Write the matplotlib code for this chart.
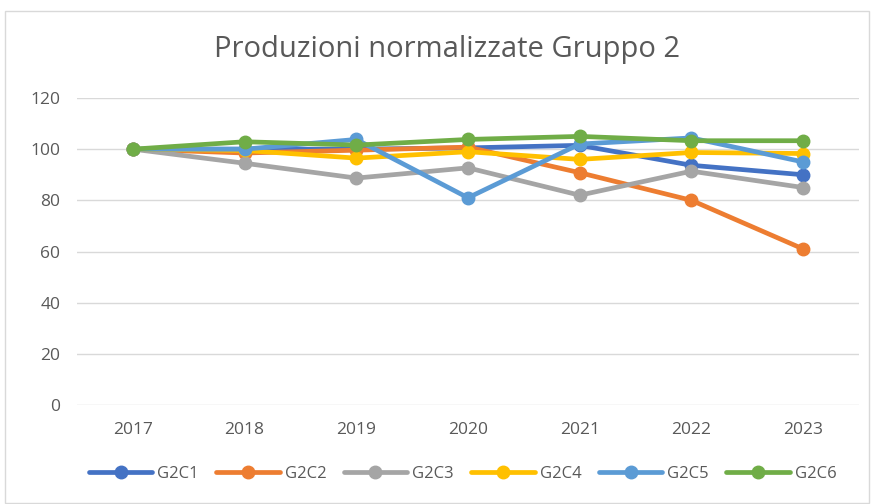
import matplotlib
matplotlib.use("Agg")
import matplotlib.pyplot as plt
from matplotlib.patches import Rectangle

years = ["2017", "2018", "2019", "2020", "2021", "2022", "2023"]
series_names = ["G2C1", "G2C2", "G2C3", "G2C4", "G2C5", "G2C6"]
g2c1 = [100, 100, 100, 100.5, 101.5, 93.7, 90]
g2c2 = [100, 98.5, 99.6, 100.8, 90.8, 80, 61]
g2c3 = [100, 94.5, 88.7, 92.7, 82, 91.4, 85]
g2c4 = [100, 99.5, 96.5, 99, 96, 98.7, 98.3]
g2c5 = [100, 100, 103.8, 81, 102, 104.4, 95]
g2c6 = [100, 102.9, 101.6, 103.8, 105, 103.3, 103.3]
colors = ["#4472C4", "#ED7D31", "#A5A5A5", "#FFC000", "#5B9BD5", "#70AD47"]
yticks = [0, 20, 40, 60, 80, 100, 120]

plt.rcParams['font.family'] = ['Open Sans', 'DejaVu Sans']
fig = plt.figure(figsize=(8.73, 5.04), dpi=100)
ax = fig.add_axes([77/873, 1-405/504, (859-77)/873, (405-98)/504])

x = list(range(len(years)))
for name, vals, c in zip(series_names, [g2c1, g2c2, g2c3, g2c4, g2c5, g2c6], colors):
    ax.plot(x, vals, color=c, lw=3.4, marker='o', ms=9, label=name, solid_capstyle='round')

ax.set_xlim(-0.5, len(years) - 0.5)
ax.set_ylim(0, 120)
ax.set_yticks(yticks)
ax.set_xticks(x)
ax.set_xticklabels(years)
ax.grid(axis='y', color='#d9d9d9', lw=1)
ax.set_axisbelow(True)
for s in ax.spines.values():
    s.set_visible(False)
ax.tick_params(length=0, colors='#595959', labelsize=12.5)
ax.tick_params(axis='y', pad=12)
ax.tick_params(axis='x', pad=12)

fig.text(0.512, 1-50/504, "Produzioni normalizzate Gruppo 2", ha='center', va='center',
         fontsize=21, color='#595959')

leg = fig.legend(loc='center', bbox_to_anchor=(0.53, 1-474/504), ncol=6, frameon=False,
                 fontsize=12, handlelength=3.8, columnspacing=1.05, handletextpad=0.3)
for t in leg.get_texts():
    t.set_color('#595959')

fig.patches.append(Rectangle((5/873, 0.002), (869-5)/873, 1-11/504-0.002, transform=fig.transFigure,
                             fill=False, edgecolor='#d9d9d9', lw=1))

fig.savefig("out.png", dpi=100, facecolor='white')
